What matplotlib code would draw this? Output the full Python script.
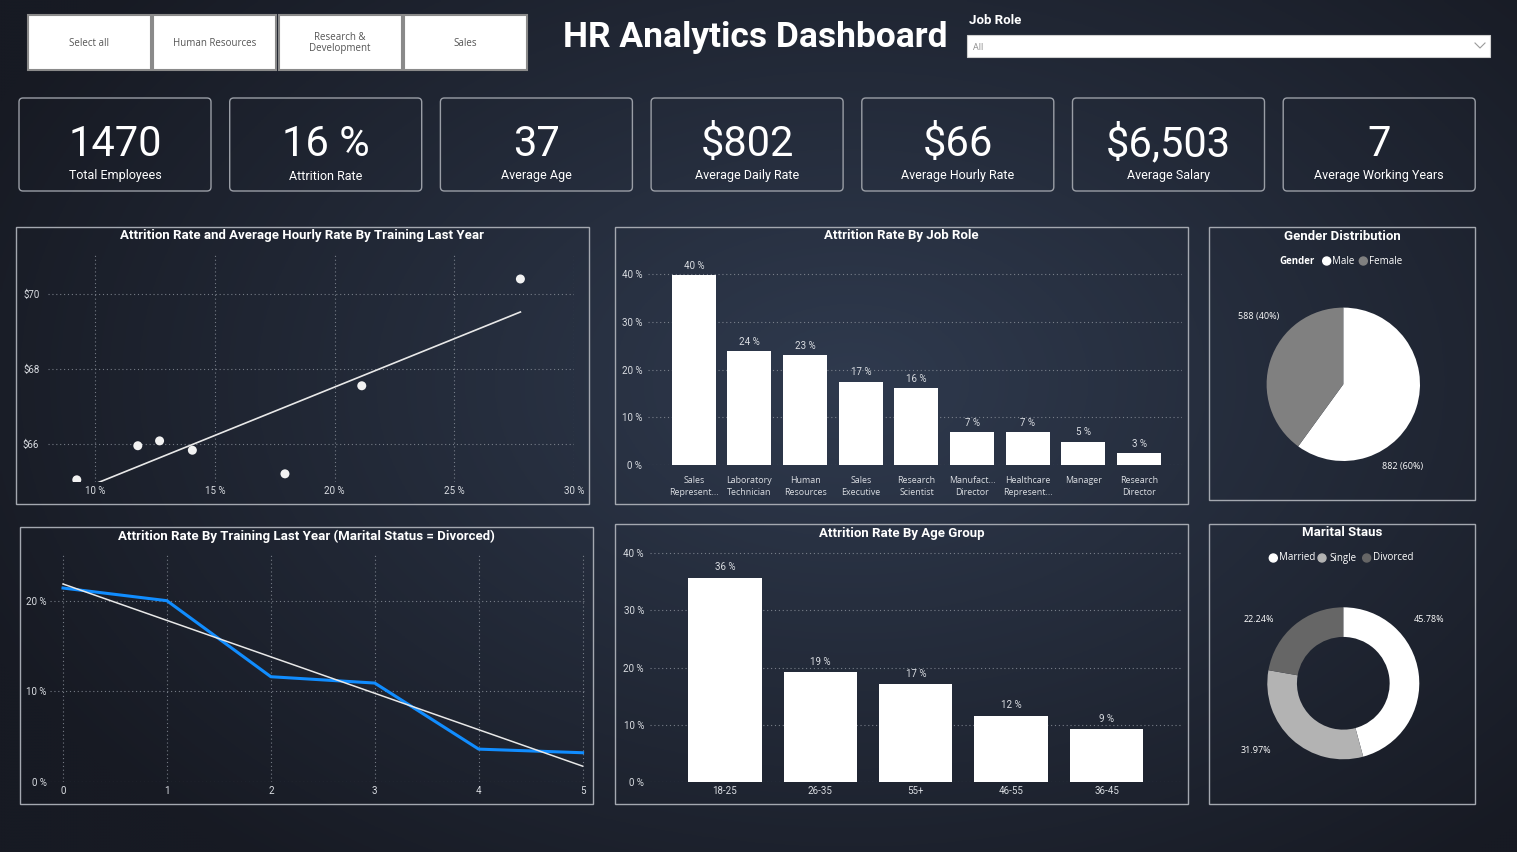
import matplotlib.pyplot as plt
import numpy as np
from matplotlib.patches import Rectangle, FancyBboxPatch, Circle

# ---- data ----
departments = ["Select all", "Human Resources", "Research &\nDevelopment", "Sales"]
kpi_values = ["1470", "16 %", "37", "$802", "$66", "$6,503", "7"]
kpi_labels = ["Total Employees", "Attrition Rate", "Average Age", "Average Daily Rate",
              "Average Hourly Rate", "Average Salary", "Average Working Years"]

training_attrition = [9.22, 11.77, 12.68, 14.05, 17.92, 21.13, 27.76]   # %
training_hourly = [65.05, 65.96, 66.09, 65.84, 65.21, 67.56, 70.41]     # $

job_roles = ["Sales\nRepresent...", "Laboratory\nTechnician", "Human\nResources",
             "Sales\nExecutive", "Research\nScientist", "Manufact...\nDirector",
             "Healthcare\nRepresent...", "Manager", "Research\nDirector"]
job_attrition = [39.76, 23.94, 23.08, 17.48, 16.10, 6.90, 6.87, 4.90, 2.50]

gender_labels = ["Male", "Female"]
gender_counts = [882, 588]

training_times = [0, 1, 2, 3, 4, 5]
divorced_attrition = [21.4, 20.0, 11.6, 10.9, 3.6, 3.2]

age_groups = ["18-25", "26-35", "55+", "46-55", "36-45"]
age_attrition = [35.77, 19.15, 17.05, 11.56, 9.17]

marital_labels = ["Married", "Single", "Divorced"]
marital_share = [45.78, 31.97, 22.24]

# ---- style ----
W, H = 1517, 852
HEAD = ["Roboto", "DejaVu Sans"]
SMALL = ["Open Sans", "DejaVu Sans"]
plt.rcParams["font.family"] = HEAD
TICK = "#dadde2"
GRID = "#8c929c"
BLUE = "#118DFF"


def rect(x, y, w, h):
    return [x / W, 1 - (y + h) / H, w / W, h / H]


def style(ax, grid_axis="y"):
    ax.set_facecolor("none")
    for s in ax.spines.values():
        s.set_visible(False)
    ax.tick_params(length=0, colors=TICK, labelsize=7)
    ax.grid(axis=grid_axis, color=GRID, lw=0.8, linestyle=(0, (1, 2.5)), alpha=0.8)
    ax.set_axisbelow(True)


def pct(v):
    return f"{int(v + 0.5)} %"


fig = plt.figure(figsize=(W / 100, H / 100), dpi=100)

# background canvas in pixel coordinates
canvas = fig.add_axes([0, 0, 1, 1])
yy, xx = np.mgrid[0:H:3, 0:W:3]
d = np.clip(np.sqrt(((xx - 850) / 950) ** 2 + ((yy - 380) / 620) ** 2), 0, 1)
c_mid = np.array([47, 58, 78]) / 255
c_edge = np.array([23, 26, 35]) / 255
bg = c_mid[None, None, :] * (1 - d[..., None]) + c_edge[None, None, :] * d[..., None]
canvas.imshow(bg, extent=(0, W, H, 0), aspect="auto", zorder=0)
canvas.set_xlim(0, W)
canvas.set_ylim(H, 0)
canvas.axis("off")

# department slicer buttons
for i, name in enumerate(departments):
    x0 = 28 + i * 125.3
    canvas.add_patch(Rectangle((x0, 15), 123, 55, fc="white", ec="#8a8a8a", lw=1.5, zorder=2))
    canvas.text(x0 + 61.5, 43, name, ha="center", va="center", fontsize=7,
                color="#555555", family=SMALL, linespacing=1.0, zorder=3)

canvas.text(755, 37, "HR Analytics Dashboard", ha="center", va="center",
            fontsize=25.5, fontweight="bold", color="white", zorder=3)

# job role dropdown
canvas.text(969, 21, "Job Role", ha="left", va="center", fontsize=9.5,
            fontweight="bold", color="white", zorder=3)
canvas.add_patch(Rectangle((967, 35), 523, 22, fc="white", ec="#cfcfcf", lw=0.8, zorder=2))
canvas.text(973, 47, "All", ha="left", va="center", fontsize=6.5, color="#8a8a8a",
            family=SMALL, zorder=3)
canvas.plot([1475, 1480, 1485], [43, 48, 43], color="#9a9a9a", lw=0.8, zorder=3)

# KPI cards
for i, (val, lab) in enumerate(zip(kpi_values, kpi_labels)):
    x0 = 19 + i * 210.7
    canvas.add_patch(FancyBboxPatch((x0, 98), 192, 93, boxstyle="round,pad=0,rounding_size=4",
                                    fc="none", ec="#9a9ea6", lw=1, zorder=2))
    canvas.text(x0 + 96, 144, val, ha="center", va="center", fontsize=30,
                color="white", zorder=3)
    canvas.text(x0 + 96, 176, lab, ha="center", va="center", fontsize=9,
                color="white", zorder=3)

# panel frames and titles
panels = [
    ((16, 227, 573, 277), "Attrition Rate and Average Hourly Rate By Training Last Year", 236),
    ((615, 227, 573, 277), "Attrition Rate By Job Role", 236),
    ((1209, 227, 266, 273), "Gender Distribution", 236),
    ((20, 527, 573, 277), "Attrition Rate By Training Last Year (Marital Status = Divorced)", 536),
    ((615, 524, 573, 280), "Attrition Rate By Age Group", 533),
    ((1209, 524, 266, 280), "Marital Staus", 533),
]
for (x0, y0, w, h), title, ty in panels:
    canvas.add_patch(Rectangle((x0, y0), w, h, fc="none", ec="#a4a8b0", lw=1, zorder=2))
    canvas.text(x0 + w / 2, ty, title, ha="center", va="center", fontsize=9.5,
                fontweight="bold", color="white", zorder=3)

# ---- scatter: attrition vs hourly rate ----
ax1 = fig.add_axes(rect(47.6, 255, 526.4, 226.7))
style(ax1, "both")
ax1.scatter(training_attrition, training_hourly, s=42, color="#f2f2f2", edgecolors="none", zorder=3)
slope, inter = np.polyfit(training_attrition, training_hourly, 1)
xs = np.array([min(training_attrition), max(training_attrition)])
ax1.plot(xs, slope * xs + inter, color="#e8e8e8", lw=1.2, zorder=2)
ax1.set_xlim(8, 30)
ax1.set_ylim(65.0, 71.05)
ax1.set_xticks([10, 15, 20, 25, 30])
ax1.set_xticklabels([f"{t} %" for t in [10, 15, 20, 25, 30]])
ax1.set_yticks([66, 68, 70])
ax1.set_yticklabels([f"${t}" for t in [66, 68, 70]])
ax1.tick_params(axis="x", pad=3)
ax1.tick_params(axis="y", pad=6)

# ---- bars: attrition by job role ----
ax2 = fig.add_axes(rect(647.6, 258, 534.4, 207))
style(ax2)
xpos = np.arange(len(job_roles))
ax2.bar(xpos, job_attrition, width=0.79, color="white", zorder=3)
for x, v in zip(xpos, job_attrition):
    ax2.annotate(pct(v), (x, v), xytext=(0, 3), textcoords="offset points",
                 ha="center", va="bottom", fontsize=7, color=TICK)
ax2.set_xlim(-0.83, 8.77)
ax2.set_ylim(0, 43.4)
ax2.set_yticks([0, 10, 20, 30, 40])
ax2.set_yticklabels([f"{t} %" for t in [0, 10, 20, 30, 40]])
ax2.set_xticks(xpos)
ax2.set_xticklabels(job_roles, family=SMALL, fontsize=6.4, linespacing=1.35)
ax2.tick_params(axis="x", pad=8)
ax2.tick_params(axis="y", pad=4)

# ---- pie: gender ----
r = 76.7
ax3 = fig.add_axes(rect(1343.3 - r, 384.3 - r, 2 * r, 2 * r))
ax3.pie(gender_counts, colors=["white", "#808080"], startangle=90, counterclock=False,
        wedgeprops=dict(lw=0))
ax3.set_xlim(-1, 1)
ax3.set_ylim(-1, 1)
total = sum(gender_counts)
canvas.text(1259, 316, f"{gender_counts[1]} ({gender_counts[1] / total:.0%})", ha="center",
            va="center", fontsize=6.5, color="white", family=SMALL, zorder=3)
canvas.text(1403, 466, f"{gender_counts[0]} ({gender_counts[0] / total:.0%})", ha="center",
            va="center", fontsize=6.5, color="white", family=SMALL, zorder=3)
canvas.text(1297, 261, "Gender", ha="center", va="center", fontsize=7, fontweight="bold",
            color="white", family=SMALL, zorder=3)
for cx, tx, col, lab in [(1326.7, 1332, "white", gender_labels[0]),
                         (1363.3, 1369.3, "#808080", gender_labels[1])]:
    canvas.add_patch(Circle((cx, 261), 4, color=col, zorder=3))
    canvas.text(tx, 261, lab, ha="left", va="center", fontsize=7, color="white",
                family=SMALL, zorder=3)

# ---- line: divorced attrition by training ----
ax4 = fig.add_axes(rect(49.5, 555, 536.2, 226.7))
style(ax4, "both")
ax4.plot(training_times, divorced_attrition, color=BLUE, lw=2.2, zorder=3)
s4, i4 = np.polyfit(training_times, divorced_attrition, 1)
tx = np.array([training_times[0], training_times[-1]])
ax4.plot(tx, s4 * tx + i4, color="#e8e8e8", lw=1.1, zorder=4)
ax4.set_xlim(-0.13, 5.03)
ax4.set_ylim(0, 25.05)
ax4.set_xticks(training_times)
ax4.set_yticks([0, 10, 20])
ax4.set_yticklabels([f"{t} %" for t in [0, 10, 20]])
ax4.tick_params(axis="x", pad=3)
ax4.tick_params(axis="y", pad=2)

# ---- bars: attrition by age group ----
ax5 = fig.add_axes(rect(649.5, 550, 532.5, 231.7))
style(ax5)
apos = np.arange(len(age_groups))
ax5.bar(apos, age_attrition, width=0.77, color="white", zorder=3)
for x, v in zip(apos, age_attrition):
    ax5.annotate(pct(v), (x, v), xytext=(0, 4), textcoords="offset points",
                 ha="center", va="bottom", fontsize=7, color=TICK)
ax5.set_xlim(-0.79, 4.79)
ax5.set_ylim(0, 40.6)
ax5.set_yticks([0, 10, 20, 30, 40])
ax5.set_yticklabels([f"{t} %" for t in [0, 10, 20, 30, 40]])
ax5.set_xticks(apos)
ax5.set_xticklabels(age_groups)
ax5.tick_params(axis="x", pad=3)
ax5.tick_params(axis="y", pad=4)

# ---- donut: marital status ----
r6 = 76
ax6 = fig.add_axes(rect(1343.3 - r6, 683.3 - r6, 2 * r6, 2 * r6))
marital_colors = ["white", "#b3b3b3", "#666666"]
ax6.pie(marital_share, colors=marital_colors, startangle=90, counterclock=False,
        wedgeprops=dict(width=0.39, lw=0))
ax6.set_xlim(-1, 1)
ax6.set_ylim(-1, 1)
for (lx, ly), v in zip([(1428.7, 619.7), (1256, 750.7), (1259, 619)], marital_share):
    canvas.text(lx, ly, f"{v:.2f}%", ha="center", va="center", fontsize=6.5,
                color="white", family=SMALL, zorder=3)
for cx, tx, col, lab in zip([1273.3, 1322, 1366.7], [1278.7, 1329.7, 1372.7],
                            marital_colors, marital_labels):
    canvas.add_patch(Circle((cx, 558), 4, color=col, zorder=3))
    canvas.text(tx, 558, lab, ha="left", va="center", fontsize=7, color="white",
                family=SMALL, zorder=3)

fig.savefig("out.png", dpi=100)
